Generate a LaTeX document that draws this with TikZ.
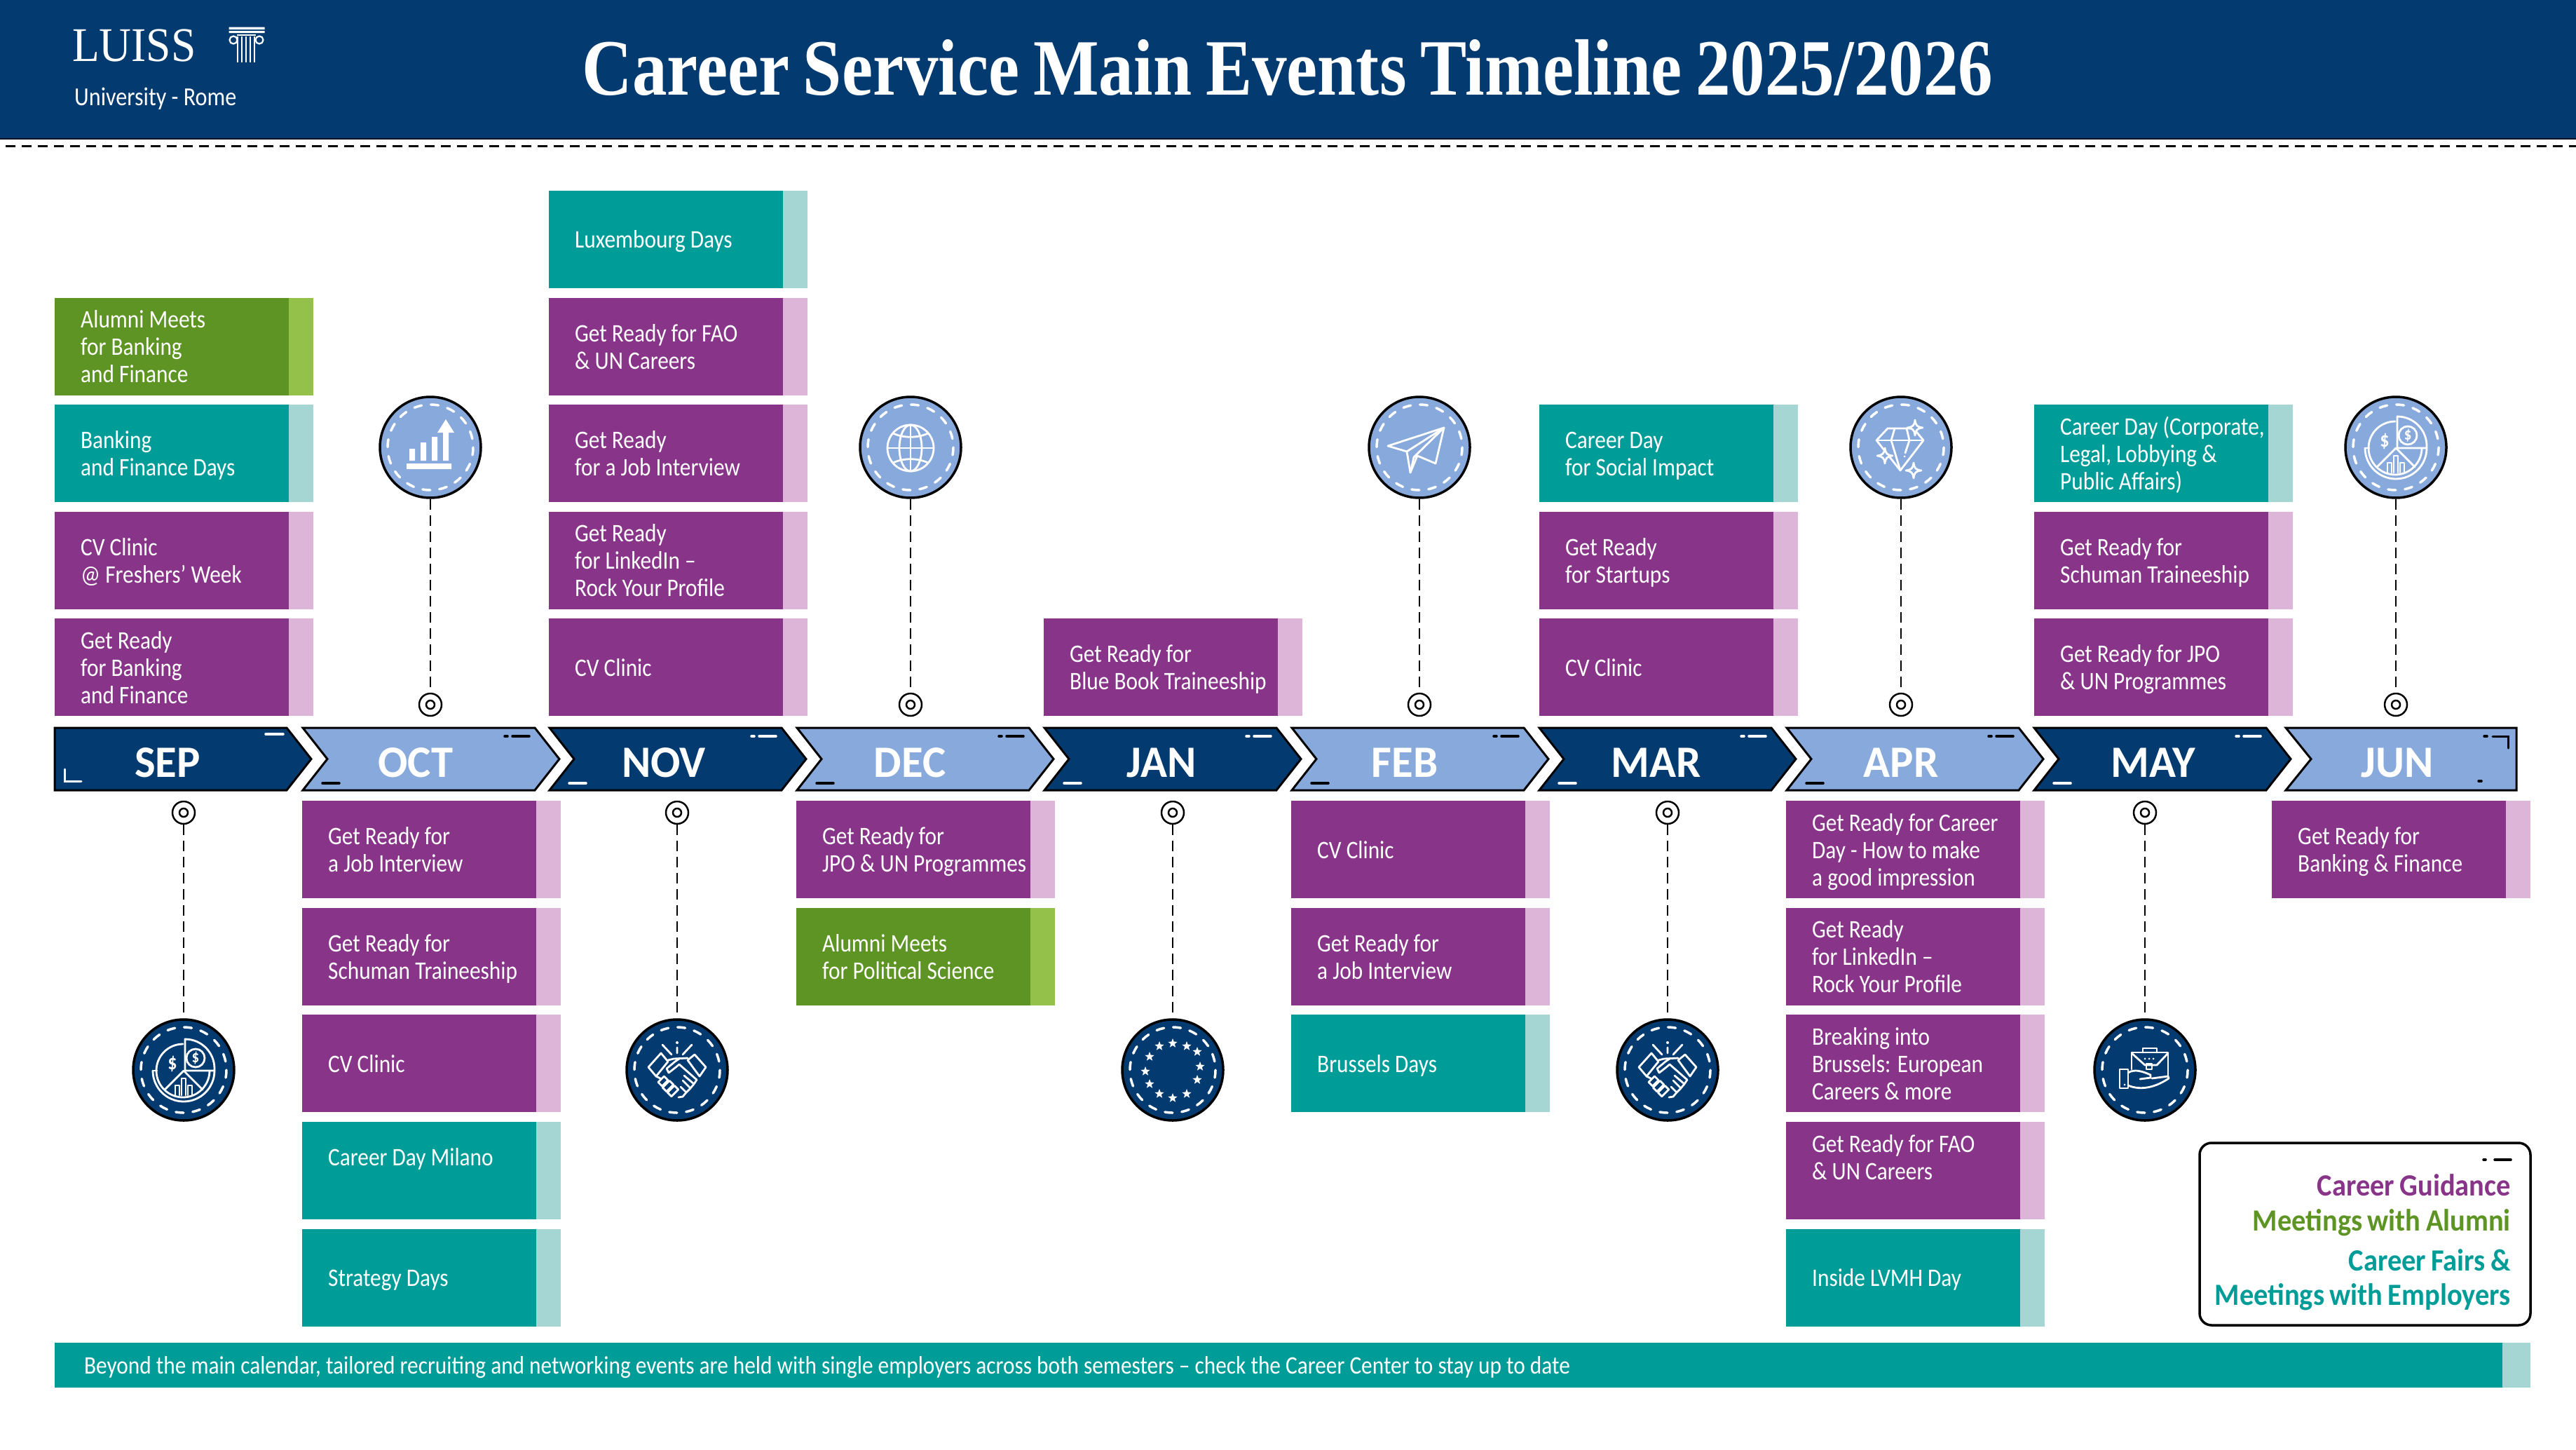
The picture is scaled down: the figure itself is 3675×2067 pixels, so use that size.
\documentclass[tikz,border=0pt]{standalone}
\usepackage{fontspec}
\setmainfont{Carlito}[FakeStretch=0.87, WordSpace=1.0]
\newfontfamily\titlefont{Liberation Serif}[FakeStretch=0.87, WordSpace=0.8]
\newfontfamily\logofont{Liberation Serif}[FakeStretch=0.92]
\newfontfamily\monthfont{Carlito}[FakeStretch=0.98]
\newfontfamily\legendfont{Carlito}[FakeStretch=0.92, WordSpace=0.8]
\usetikzlibrary{shapes,positioning}
\hyphenpenalty=10000

\definecolor{navyblue}{HTML}{033A70}
\definecolor{skyblue}{HTML}{88A9DB}
\definecolor{guidemain}{HTML}{873489}
\definecolor{guidelight}{HTML}{DDB5D9}
\definecolor{fairmain}{HTML}{009C98}
\definecolor{fairlight}{HTML}{A5D6D4}
\definecolor{alumnimain}{HTML}{5D9423}
\definecolor{alumnilight}{HTML}{93C149}

\begin{document}
\begin{tikzpicture}[
    x=1pt, y=-1pt,
    eventbox/.style={rectangle, minimum width=369pt, minimum height=139pt, inner ysep=0pt, inner xsep=37pt, text width=295pt, align=flush left, text=white, execute at begin node={\rule{0pt}{34pt}}, execute at end node={\rule[-9pt]{0pt}{9pt}}},
    guidebox/.style={eventbox, fill=guidelight, path picture={\fill[guidemain] (path picture bounding box.south west) rectangle ([xshift=-35pt]path picture bounding box.north east);}},
    fairbox/.style={eventbox, fill=fairlight, path picture={\fill[fairmain] (path picture bounding box.south west) rectangle ([xshift=-35pt]path picture bounding box.north east);}},
    alumnibox/.style={eventbox, fill=alumnilight, path picture={\fill[alumnimain] (path picture bounding box.south west) rectangle ([xshift=-35pt]path picture bounding box.north east);}},
    noticebar/.style={rectangle, minimum width=3532pt, minimum height=64pt, inner ysep=0pt, inner xsep=42pt, text width=3448pt, align=flush left, text=white, fill=fairlight, execute at begin node={\rule{0pt}{34pt}}, execute at end node={\rule[-9pt]{0pt}{9pt}}, path picture={\fill[fairmain] (path picture bounding box.south west) rectangle ([xshift=-40pt]path picture bounding box.north east);}},
    chevron/.style={draw=black, line width=3pt, line join=miter},
    markline/.style={line width=3.5pt, line cap=round},
    monthlabel/.style={text=white, font={\fontsize{64}{64}\selectfont\monthfont\bfseries}, inner sep=0pt},
    pinmark/.style={circle, draw=black, fill=white, line width=2.5pt, minimum size=32pt, inner sep=0pt, path picture={\draw[line width=2.5pt] (path picture bounding box.center) circle[radius=6];}},
    iconlight/.style={circle, draw=black, fill=skyblue, line width=3.5pt, minimum size=144pt, inner sep=0pt, path picture={\draw[white, line width=3.5pt, line cap=round, dash pattern=on 11pt off 13pt] (path picture bounding box.center) circle[radius=61];}},
    icondark/.style={circle, draw=black, fill=navyblue, line width=3.5pt, minimum size=144pt, inner sep=0pt, path picture={\draw[white, line width=3.5pt, line cap=round, dash pattern=on 11pt off 13pt] (path picture bounding box.center) circle[radius=61];}},
    connector/.style={draw=black, line width=2.5pt, dash pattern=on 15pt off 8pt},
    glyph/.style={draw=white, line width=2.8pt, line join=round, line cap=round},
    legendtext/.style={anchor=east, inner sep=0pt, align=right, font={\fontsize{44}{49}\selectfont\legendfont\bfseries}},
    node distance=13.2pt,
    chevrondark/.pic={
      \draw[chevron, fill=navyblue] (0,0) -- (331,0) -- (366,44.5) -- (331,89) -- (0,89) -- (35,44.5) -- cycle;
      \draw[markline, white] (28,79) -- (52,79) (288,12) -- (292,12) (299,12) -- (323,12);
    },
    chevronlight/.pic={
      \draw[chevron, fill=skyblue] (0,0) -- (331,0) -- (366,44.5) -- (331,89) -- (0,89) -- (35,44.5) -- cycle;
      \draw[markline, black] (28,79) -- (52,79) (288,12) -- (292,12) (299,12) -- (323,12);
    },
    pieglyph/.pic={
      \draw[glyph] (-1,-37) arc[start angle=270, end angle=0, radius=38];
      \draw[glyph] (-44,1) arc[start angle=180, end angle=0, radius=44];
      \draw[glyph] (-44,1) -- (-38,1);
      \draw[glyph] (2,1) -- (2,-44) arc[start angle=270, end angle=360, radius=42] -- (44,1) -- cycle;
      \draw[glyph] (-27,28) -- (0,1) -- (27,28);
      \draw[glyph] (17,-17) circle[radius=13];
      \draw[glyph] (-12,36) -- (-12,22) -- (-6,22) -- (-6,36) (-3,36) -- (-3,12) -- (3,12) -- (3,36) (6,36) -- (6,22) -- (12,22) -- (12,36);
      \node[text=white, inner sep=0pt, font={\fontsize{30}{30}\selectfont\bfseries}] (dollara) at (-16,-9) {\$};
      \node[text=white, inner sep=0pt, font={\fontsize{24}{24}\selectfont\bfseries}] (dollarb) at (17,-17) {\$};
    },
    handglyph/.pic={
      \draw[glyph] (-23,-24) -- (-41,-4) -- (-30,9) -- (-13,-12) -- cycle;
      \draw[glyph] (25,-22) -- (41,-4) -- (32,9) -- (15,-14) -- cycle;
      \draw[glyph] (-13,-14) -- (-5,-16) -- (15,-17);
      \draw[glyph] (3,-16) -- (-3,-12) -- (-15,-2) -- (-12,4) -- (-3,-3) -- (3,-8) -- (28,14);
      \draw[glyph] (-30,9) -- (-24,12);
      \draw[glyph] (28,14) -- (24,20) -- (10,8) (24,20) -- (19,26) -- (8,15) (19,26) -- (13,32) -- (5,24) (13,32) -- (8,38) -- (2,39);
      \draw[glyph, rotate around={45:(-20,16)}] (-26,12) rectangle (-14,20);
      \draw[glyph, rotate around={45:(-13,23)}] (-20,19) rectangle (-6,27);
      \draw[glyph, rotate around={45:(-6,30)}] (-13,26) rectangle (1,34);
      \draw[glyph] (-21,-36) -- (-8,-22) (0,-32) -- (0,-24) (21,-36) -- (8,-22);
      \fill[white] (0,-39) circle[radius=2];
    },
    sparkle/.pic={
      \draw[glyph, fill=skyblue] (0,-11) .. controls (1,-3) and (3,-1) .. (11,0) .. controls (3,1) and (1,3) .. (0,11) .. controls (-1,3) and (-3,1) .. (-11,0) .. controls (-3,-1) and (-1,-3) .. (0,-11) -- cycle;
    }
]

  \tikzset{
    font={\fontsize{36}{39}\selectfont}
  }
\useasboundingbox (0,0) rectangle (3675,2067);

% Header
\fill[navyblue] (0,0) rectangle (3675,198);
\draw[black!70!navyblue, line width=1.5pt] (0,198) -- (3675,198);
\draw[black, line width=3pt, dash pattern=on 14pt off 9pt] (8,208) -- (3675,208);
\node[text=white, anchor=west, inner sep=0pt, font={\fontsize{69}{69}\selectfont\logofont}] (luiss) at (103,65) {LUISS};
\node[text=white, anchor=west, inner sep=0pt, font={\fontsize{37}{37}\selectfont}] (rome) at (106,141) {University - Rome};
\node[text=white, inner sep=0pt, font={\fontsize{114}{114}\selectfont\titlefont\bfseries}] (title) at (1837,97) {Career Service Main Events Timeline 2025/2026};

% Column in the logo
\fill[white] (326.5,38.5) rectangle (377.5,42) (326.5,44) rectangle (377.5,47);
\draw[white, line width=2.2pt] (333,57) circle[radius=5.5] (370,57) circle[radius=5.5];
\draw[white, line width=2.2pt] (338,50) -- (365,50);
\draw[white, line width=2.2pt] (339,52) -- (339,89) (345,52) -- (345,89) (351,52) -- (351,89) (357,52) -- (357,89) (363,52) -- (363,89);

% Months
\draw[chevron, fill=navyblue] (78,1038) -- (409,1038) -- (444,1082.5) -- (409,1127) -- (78,1127) -- cycle;
\draw[markline, white] (379,1047) -- (404,1047);
\draw[white, line width=3pt, line cap=round] (92,1097) -- (92,1114) -- (116,1114);
\pic at (432,1038) {chevronlight};
\pic at (784,1038) {chevrondark};
\pic at (1137,1038) {chevronlight};
\pic at (1490,1038) {chevrondark};
\pic at (1843,1038) {chevronlight};
\pic at (2196,1038) {chevrondark};
\pic at (2549,1038) {chevronlight};
\pic at (2902,1038) {chevrondark};
\draw[chevron, fill=skyblue] (3261,1038) -- (3590,1038) -- (3590,1127) -- (3261,1127) -- (3297,1082.5) -- cycle;
\draw[markline, black] (3544,1050) -- (3548,1050) (3536,1114) -- (3540,1114);
\draw[black, line width=3pt, line cap=round] (3556,1050) -- (3578,1050) -- (3578,1067);

\node[monthlabel] (sep) at (239,1088) {SEP};
\node[monthlabel] (oct) at (593,1088) {OCT};
\node[monthlabel] (nov) at (947,1088) {NOV};
\node[monthlabel] (dec) at (1298,1088) {DEC};
\node[monthlabel] (jan) at (1657,1088) {JAN};
\node[monthlabel] (feb) at (2004,1088) {FEB};
\node[monthlabel] (mar) at (2363,1088) {MAR};
\node[monthlabel] (apr) at (2712,1088) {APR};
\node[monthlabel] (may) at (3072,1088) {MAY};
\node[monthlabel] (jun) at (3420,1088) {JUN};

% Boxes above the line
\node[guidebox, anchor=south west] (sepa) at (78,1021.5) {Get Ready\\for Banking\\and Finance};
\node[guidebox, above=of sepa] (sepb) {CV Clinic\\@ Freshers' Week};
\node[fairbox, above=of sepb] (sepc) {Banking\\and Finance Days};
\node[alumnibox, above=of sepc] (sepd) {Alumni Meets\\for Banking\\and Finance};

\node[guidebox, anchor=south west] (nova) at (783,1021.5) {CV Clinic};
\node[guidebox, above=of nova] (novb) {Get Ready\\for LinkedIn --\\Rock Your Profile};
\node[guidebox, above=of novb] (novc) {Get Ready\\for a Job Interview};
\node[guidebox, above=of novc] (novd) {Get Ready for FAO\\\& UN Careers};
\node[fairbox, above=of novd] (nove) {Luxembourg Days};

\node[guidebox, anchor=south west] (jana) at (1489,1021.5) {Get Ready for\\Blue Book Traineeship};

\node[guidebox, anchor=south west] (mara) at (2196,1021.5) {CV Clinic};
\node[guidebox, above=of mara] (marb) {Get Ready\\for Startups};
\node[fairbox, above=of marb] (marc) {Career Day\\for Social Impact};

\node[guidebox, anchor=south west] (maya) at (2902,1021.5) {Get Ready for JPO\\\& UN Programmes};
\node[guidebox, above=of maya] (mayb) {Get Ready for\\Schuman Traineeship};
\node[fairbox, above=of mayb] (mayc) {Career Day (Corporate,\\Legal, Lobbying \&\\Public Affairs)};

% Boxes below the line
\node[guidebox, anchor=north west] (octa) at (431,1142) {Get Ready for\\a Job Interview};
\node[guidebox, below=of octa] (octb) {Get Ready for\\Schuman Traineeship};
\node[guidebox, below=of octb] (octc) {CV Clinic};
\node[fairbox, below=of octc] (octd) {Career Day Milano\\~};
\node[fairbox, below=of octd] (octe) {Strategy Days};

\node[guidebox, anchor=north west] (deca) at (1136,1142) {Get Ready for\\JPO \& UN Programmes};
\node[alumnibox, below=of deca] (decb) {Alumni Meets\\for Political Science};

\node[guidebox, anchor=north west] (feba) at (1842,1142) {CV Clinic};
\node[guidebox, below=of feba] (febb) {Get Ready for\\a Job Interview};
\node[fairbox, below=of febb] (febc) {Brussels Days};

\node[guidebox, anchor=north west] (apra) at (2548,1142) {Get Ready for Career\\Day - How to make\\a good impression};
\node[guidebox, below=of apra] (aprb) {Get Ready\\for LinkedIn --\\Rock Your Profile};
\node[guidebox, below=of aprb] (aprc) {Breaking into\\Brussels: European\\Careers \& more};
\node[guidebox, below=of aprc] (aprd) {Get Ready for FAO\\\& UN Careers\\~};
\node[fairbox, below=of aprd] (apre) {Inside LVMH Day};

\node[guidebox, anchor=north west] (juna) at (3241,1142) {Get Ready for\\Banking \& Finance};

% Icons and pins
\node[iconlight] (iconoct) at (614,638) {};
\node[pinmark] (pinoct) at (614,1005) {};
\draw[connector] (iconoct) -- (pinoct);
\node[iconlight] (icondec) at (1299,638) {};
\node[pinmark] (pindec) at (1299,1005) {};
\draw[connector] (icondec) -- (pindec);
\node[iconlight] (iconfeb) at (2025,638) {};
\node[pinmark] (pinfeb) at (2025,1005) {};
\draw[connector] (iconfeb) -- (pinfeb);
\node[iconlight] (iconapr) at (2712,638) {};
\node[pinmark] (pinapr) at (2712,1005) {};
\draw[connector] (iconapr) -- (pinapr);
\node[iconlight] (iconjun) at (3418,638) {};
\node[pinmark] (pinjun) at (3418,1005) {};
\draw[connector] (iconjun) -- (pinjun);

\node[icondark] (iconsep) at (262,1526) {};
\node[pinmark] (pinsep) at (262,1159) {};
\draw[connector] (pinsep) -- (iconsep);
\node[icondark] (iconnov) at (966,1526) {};
\node[pinmark] (pinnov) at (966,1159) {};
\draw[connector] (pinnov) -- (iconnov);
\node[icondark] (iconjan) at (1673,1526) {};
\node[pinmark] (pinjan) at (1673,1159) {};
\draw[connector] (pinjan) -- (iconjan);
\node[icondark] (iconmar) at (2379,1526) {};
\node[pinmark] (pinmar) at (2379,1159) {};
\draw[connector] (pinmar) -- (iconmar);
\node[icondark] (iconmay) at (3060,1526) {};
\node[pinmark] (pinmay) at (3060,1159) {};
\draw[connector] (pinmay) -- (iconmay);

% Glyphs inside the icons
\begin{scope}[shift={(614,638)}]
  \fill[white] (-34,23) rectangle (30,31) (-30,2) rectangle (-22,19) (-14,-7) rectangle (-6,19) (2,-15) rectangle (10,19) (18,-21) rectangle (26,19);
  \fill[white] (22,-40) -- (34,-21) -- (10,-21) -- cycle;
\end{scope}
\begin{scope}[shift={(1299,638)}]
  \draw[glyph] (0,1) circle[radius=33];
  \draw[glyph] (0,1) ellipse[x radius=16, y radius=33];
  \draw[glyph] (0,-32) -- (0,34) (-33,1) -- (33,1);
  \draw[glyph] (-25,-20) .. controls (-10,-13) and (10,-13) .. (25,-20);
  \draw[glyph] (-25,22) .. controls (-10,15) and (10,15) .. (25,22);
\end{scope}
\begin{scope}[shift={(2025,638)}]
  \draw[glyph] (-45,-2) -- (35,-28) -- (23,23) -- (-3,12) -- (-13,36) -- (-18,6) -- cycle;
  \draw[glyph] (-18,6) -- (35,-28) -- (-8,14) -- (-13,36);
  \draw[glyph] (-8,14) -- (-3,12);
\end{scope}
\begin{scope}[shift={(2712,638)}]
  \draw[glyph] (-19,-27) -- (18,-27) -- (32,-10) -- (-1,33) -- (-35,-10) -- cycle;
  \draw[glyph] (-35,-10) -- (32,-10);
  \draw[glyph] (-9,-27) -- (-14,-10) -- (-1,33);
  \draw[glyph] (8,-27) -- (12,-10) -- (6,8);
  \fill[white] (5,13) circle[radius=1.5];
  \pic at (20,-28) {sparkle};
  \pic at (-23,12) {sparkle};
  \pic at (18,33) {sparkle};
\end{scope}
\pic at (3418,638) {pieglyph};
\pic at (262,1526) {pieglyph};
\pic at (966,1526) {handglyph};
\pic at (2379,1526) {handglyph};
\begin{scope}[shift={(1673,1526)}]
  \tikzset{eustar/.style={star, star points=5, star point ratio=2.4, fill=white, inner sep=0pt, minimum size=14pt}}
  \node[eustar] (stara) at (-19,-34) {};
  \node[eustar] (starb) at (0,-38) {};
  \node[eustar] (starc) at (20,-34) {};
  \node[eustar] (stard) at (35,-26) {};
  \node[eustar] (stare) at (39,-5) {};
  \node[eustar] (starf) at (35,14) {};
  \node[eustar] (starg) at (20,34) {};
  \node[eustar] (starh) at (0,40) {};
  \node[eustar] (stari) at (-19,34) {};
  \node[eustar] (starj) at (-33,20) {};
  \node[eustar] (stark) at (-39,2) {};
  \node[eustar] (starl) at (-33,-19) {};
\end{scope}
\begin{scope}[shift={(3060,1526)}]
  \draw[glyph] (-19,-1) -- (-19,-25) -- (33,-25) -- (33,8);
  \draw[glyph] (-3,-25) -- (-3,-31) -- (17,-31) -- (17,-25);
  \draw[glyph] (-19,-24) -- (0,-7) -- (17,-7) -- (33,-24);
  \draw[glyph] (2,-9) rectangle (10,-1);
  \fill[white] (0,-16) circle[radius=1.5] (6,-16) circle[radius=1.5] (12,-16) circle[radius=1.5];
  \draw[glyph] (-36,-1) rectangle (-24,26);
  \fill[white] (-29,21) circle[radius=1.5];
  \draw[glyph] (-24,4) .. controls (-15,-2) and (-3,2) .. (8,7) -- (8,11) -- (-7,13);
  \draw[glyph] (-24,22) .. controls (-10,28) and (10,28) .. (34,12) -- (33,9) -- (10,12);
\end{scope}

% Legend
\draw[black, line width=3.5pt, rounded corners=17pt] (3138,1630) rectangle (3610,1890);
\draw[markline, black] (3543,1654) -- (3546,1654) (3559,1654) -- (3582,1654);
\node[legendtext, text=guidemain] (legendguide) at (3582,1690) {Career Guidance};
\node[legendtext, text=alumnimain] (legendalumni) at (3582,1744) {Meetings with Alumni};
\node[legendtext, text=fairmain] (legendfair) at (3582,1825) {Career Fairs \&\\Meetings with Employers};

% Notice
\node[noticebar, anchor=north west] (notice) at (78,1915) {Beyond the main calendar, tailored recruiting and networking events are held with single employers across both semesters -- check the Career Center to stay up to date};

\end{tikzpicture}
\end{document}
